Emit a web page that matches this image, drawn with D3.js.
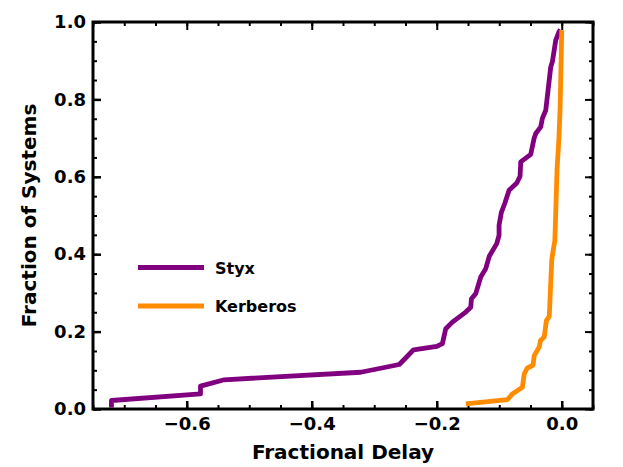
<!DOCTYPE html>
<html>
<head>
<meta charset="utf-8">
<script src="https://cdn.jsdelivr.net/npm/d3@7"></script>
<style>
  body { margin: 0; background: #fff; }
  text { font-family: "DejaVu Sans", sans-serif; font-weight: bold; }
</style>
</head>
<body>
<div id="chart"></div>
<script>
// cumulative fraction curves, [delay, fraction]
var styx = [
  [-0.7205, 0.004], [-0.7205, 0.022], [-0.578, 0.039], [-0.578, 0.059],
  [-0.540, 0.0755], [-0.3216, 0.095], [-0.26, 0.115], [-0.237, 0.153],
  [-0.2, 0.1617], [-0.191, 0.169], [-0.1856, 0.2075], [-0.175, 0.2246],
  [-0.1536, 0.2505], [-0.1456, 0.263], [-0.1445, 0.285], [-0.1376, 0.298],
  [-0.1296, 0.341], [-0.1216, 0.3627], [-0.116, 0.3946], [-0.104, 0.4274],
  [-0.1003, 0.449], [-0.1003, 0.475], [-0.0965, 0.509], [-0.0912, 0.531],
  [-0.0843, 0.5653], [-0.072, 0.584], [-0.0667, 0.6016], [-0.0656, 0.6386],
  [-0.0496, 0.658], [-0.0443, 0.699], [-0.0416, 0.712], [-0.0336, 0.729],
  [-0.031, 0.751], [-0.0256, 0.772], [-0.0176, 0.884], [-0.015, 0.897],
  [-0.0096, 0.953], [-0.0043, 0.975], [-0.002, 0.98]
];
var kerberos = [
  [-0.1536, 0.013], [-0.087, 0.024], [-0.079, 0.039], [-0.063, 0.056],
  [-0.060, 0.091], [-0.055, 0.106], [-0.046, 0.113], [-0.044, 0.138],
  [-0.036, 0.16], [-0.034, 0.177], [-0.028, 0.186], [-0.0245, 0.229],
  [-0.020, 0.239], [-0.016, 0.384], [-0.015, 0.397], [-0.011, 0.436],
  [-0.0075, 0.62], [-0.0045, 0.70], [-0.0027, 0.772], [-0.001, 0.9],
  [0.0, 0.979]
];
var seriesNames = ["Styx", "Kerberos"];
var seriesColors = ["#800080", "#ff8c00"];
var xTicks = [-0.6, -0.4, -0.2, 0.0];
var yTicks = [0.0, 0.2, 0.4, 0.6, 0.8, 1.0];

// set the dimensions and margins of the graph
var margin = {top: 22, right: 30, bottom: 58, left: 93},
    width = 623 - margin.left - margin.right,
    height = 467 - margin.top - margin.bottom;

var x = d3.scaleLinear().domain([-0.75, 0.05]).range([0, width]);
var y = d3.scaleLinear().domain([0, 1]).range([height, 0]);

var svg = d3.select("#chart").append("svg")
    .attr("width", 623)
    .attr("height", 467)
  .append("g")
    .attr("transform", "translate(" + margin.left + "," + margin.top + ")");

var fmt = function(d) { return d3.format(".1f")(d).replace("-", "\u2212"); };
var xMinor = d3.range(-0.75, 0.051, 0.05).map(function(d) { return +d.toFixed(2); });
var yMinor = d3.range(0, 1.001, 0.05).map(function(d) { return +d.toFixed(2); });

// minor ticks (inward, all sides)
svg.append("g").attr("transform", "translate(0," + height + ")")
    .call(d3.axisBottom(x).tickValues(xMinor).tickSize(-4).tickFormat(""));
svg.append("g")
    .call(d3.axisTop(x).tickValues(xMinor).tickSize(-4).tickFormat(""));
svg.append("g")
    .call(d3.axisLeft(y).tickValues(yMinor).tickSize(-4).tickFormat(""));
svg.append("g").attr("transform", "translate(" + width + ",0)")
    .call(d3.axisRight(y).tickValues(yMinor).tickSize(-4).tickFormat(""));

// major ticks
svg.append("g").attr("class", "xaxis").attr("transform", "translate(0," + height + ")")
    .call(d3.axisBottom(x).tickValues(xTicks).tickSize(-8).tickPadding(8).tickFormat(fmt));
svg.append("g")
    .call(d3.axisTop(x).tickValues(xTicks).tickSize(-8).tickFormat(""));
svg.append("g").attr("class", "yaxis")
    .call(d3.axisLeft(y).tickValues(yTicks).tickSize(-8).tickPadding(7).tickFormat(fmt));
svg.append("g").attr("transform", "translate(" + width + ",0)")
    .call(d3.axisRight(y).tickValues(yTicks).tickSize(-8).tickFormat(""));

svg.selectAll(".domain").remove();
svg.selectAll(".tick line").attr("stroke", "#000").attr("stroke-width", 2);
svg.selectAll(".xaxis .tick line, .yaxis .tick line").attr("stroke-width", 2.5);
svg.selectAll(".tick text").attr("font-size", 18).attr("fill", "#000")
    .attr("font-family", "DejaVu Sans").attr("font-weight", "bold");

// lines
var line = d3.line()
    .x(function(d) { return x(d[0]); })
    .y(function(d) { return y(d[1]); });

[styx, kerberos].forEach(function(s, i) {
  svg.append("path")
      .datum(s)
      .attr("fill", "none")
      .attr("stroke", seriesColors[i])
      .attr("stroke-width", 4.8)
      .attr("stroke-linejoin", "round")
      .attr("d", line);
});

// frame
svg.append("rect")
    .attr("width", width)
    .attr("height", height)
    .attr("fill", "none")
    .attr("stroke", "#000")
    .attr("stroke-width", 3);

// legend
var legend = svg.selectAll(".legend")
    .data(seriesNames)
    .enter().append("g")
    .attr("transform", function(d, i) { return "translate(45," + (245.5 + i * 38.5) + ")"; });
legend.append("line")
    .attr("x1", 0).attr("x2", 66)
    .attr("stroke", function(d, i) { return seriesColors[i]; })
    .attr("stroke-width", 4.8);
legend.append("text")
    .attr("x", 77).attr("y", 6)
    .attr("font-size", 16)
    .text(function(d) { return d; });

// axis labels
svg.append("text")
    .attr("x", width / 2).attr("y", height + 50)
    .attr("text-anchor", "middle")
    .attr("font-size", 20)
    .text("Fractional Delay");
svg.append("text")
    .attr("transform", "rotate(-90)")
    .attr("x", -height / 2).attr("y", -57)
    .attr("text-anchor", "middle")
    .attr("font-size", 20)
    .text("Fraction of Systems");
</script>
</body>
</html>
